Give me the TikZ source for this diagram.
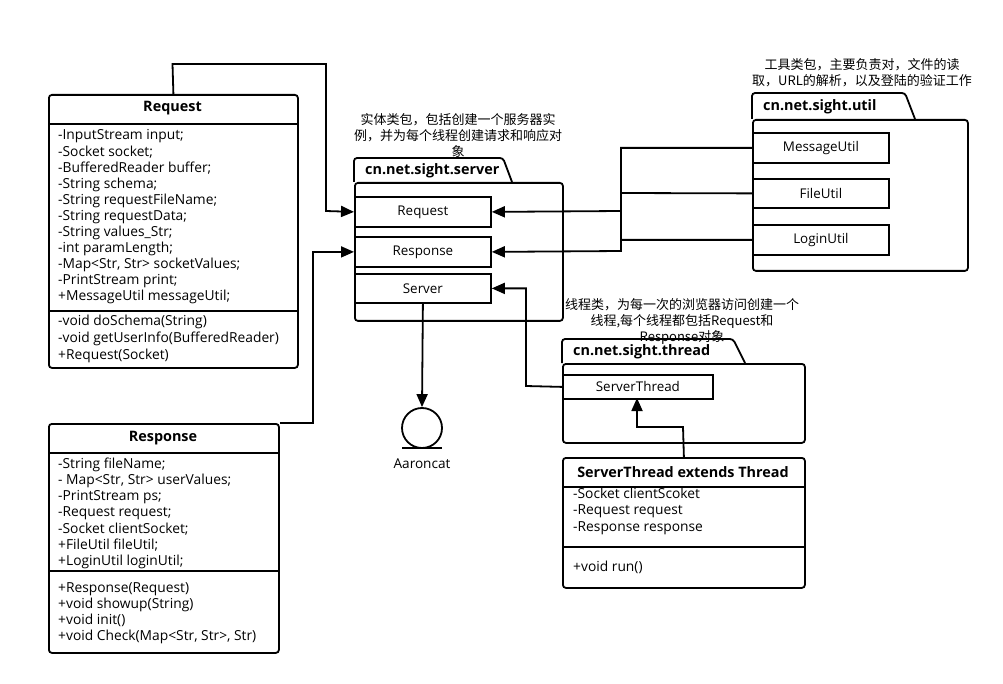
\documentclass[tikz,border=0pt]{standalone}
\usepackage{fontspec}
\setmainfont{Open Sans}
\newfontfamily\cjk{Noto Sans CJK SC}
\usetikzlibrary{arrows.meta}
\begin{document}
\begin{tikzpicture}[x=1pt,y=-1pt,
  lw/.style={line width=1.8pt},
  cls/.style={draw,line width=1.8pt,rounded corners=3pt,inner sep=0,anchor=north west},
  inbox/.style={draw,line width=1.8pt,inner sep=0,anchor=north west,font=\fontsize{13.4}{15}\selectfont},
  mem/.style={anchor=west,inner sep=0,font=\fontsize{13.8}{15}\selectfont,text height=10pt,text depth=2pt},
  ttl/.style={inner sep=0,font=\bfseries\fontsize{14.4}{15}\selectfont},
  pkl/.style={anchor=west,inner sep=0,font=\bfseries\fontsize{14.4}{15}\selectfont},
  note/.style={align=center,inner sep=0,font=\cjk\fontsize{13}{16}\selectfont},
  arr/.style={line width=1.8pt,-{Triangle[length=13pt,width=11pt]}},
  con/.style={line width=1.8pt}]
\useasboundingbox (0,0) rectangle (1003,684);

% ---------- Request class ----------
\node[cls,minimum width=249pt,minimum height=273pt] (req) at (48,94) {};
\node[ttl] (reqt) at (172.5,108) {Request};
\draw[lw] (48,124) -- (297,124);
\draw[lw] (48,311) -- (297,311);
\foreach \t [count=\i] in {{-InputStream input;},{-Socket socket;},{-BufferedReader buffer;},{-String schema;},{-String requestFileName;},{-String requestData;},{-String values\_Str;},{-int paramLength;},{-Map<Str, Str> socketValues;},{-PrintStream print;},{+MessageUtil messageUtil;}}
  \node[mem] (reqa\i) at (58,{136+16.1*(\i-1)}) {\t};
\foreach \t [count=\i] in {{-void doSchema(String)},{-void getUserInfo(BufferedReader)},{+Request(Socket)}}
  \node[mem] (reqm\i) at (58,{322+16.5*(\i-1)}) {\t};

% ---------- Response class ----------
\node[cls,minimum width=230pt,minimum height=229pt] (resp) at (48,423) {};
\node[ttl] (respt) at (163,438) {Response};
\draw[lw] (48,453) -- (278,453);
\draw[lw] (48,571) -- (278,571);
\foreach \t [count=\i] in {{-String fileName;},{- Map<Str, Str> userValues;},{-PrintStream ps;},{-Request request;},{-Socket clientSocket;},{+FileUtil fileUtil;},{+LoginUtil loginUtil;}}
  \node[mem] (respa\i) at (58,{464+16.3*(\i-1)}) {\t};
\foreach \t [count=\i] in {{+Response(Request)},{+void showup(String)},{+void init()},{+void Check(Map<Str, Str>, Str)}}
  \node[mem] (respm\i) at (58,{588+16.3*(\i-1)}) {\t};

% ---------- ServerThread class ----------
\node[cls,minimum width=242pt,minimum height=130pt] (stc) at (562,457) {};
\node[ttl] (stct) at (683,472) {ServerThread extends Thread};
\draw[lw] (562,487) -- (804,487);
\draw[lw] (562,547) -- (804,547);
\foreach \t [count=\i] in {{-Socket clientScoket},{-Request request},{-Response response}}
  \node[mem] (stca\i) at (573,{494+16.5*(\i-1)}) {\t};
\node[mem] (stcm1) at (573,567) {+void run()};

% ---------- server package ----------
\node[cls,minimum width=208pt,minimum height=138pt] (spkg) at (354,182) {};
\draw[lw,rounded corners=3pt] (spkg.north west) |- (503,158) -- (512,182);
\node[pkl] (spkgl) at (365,171) {cn.net.sight.server};
\node[inbox,minimum width=136pt,minimum height=30pt] (sReq) at (354,196) {Request};
\node[inbox,minimum width=136pt,minimum height=30pt] (sResp) at (354,236) {Response};
\node[inbox,minimum width=136pt,minimum height=29pt] (sSrv) at (354,273) {Server};
\node[note] (snote) at (458,135) {实体类包，包括创建一个服务器实\\例，并为每个线程创建请求和响应对\\象};

% ---------- util package ----------
\node[cls,minimum width=215pt,minimum height=151pt] (upkg) at (752,119) {};
\draw[lw,rounded corners=3pt] (upkg.north west) |- (905,93) -- (915,119);
\node[pkl] (upkgl) at (763,107) {cn.net.sight.util};
\node[inbox,minimum width=136pt,minimum height=30pt] (uMsg) at (752,132) {MessageUtil};
\node[inbox,minimum width=136pt,minimum height=29pt] (uFile) at (752,178) {FileUtil};
\node[inbox,minimum width=136pt,minimum height=30pt] (uLog) at (752,224) {LoginUtil};
\node[note] (unote) at (862,72.5) {工具类包，主要负责对，文件的读\\取，URL的解析，以及登陆的验证工作};

% ---------- thread package ----------
\node[cls,minimum width=242pt,minimum height=79pt] (tpkg) at (562,363) {};
\draw[lw,rounded corners=3pt] (tpkg.north west) |- (733,339) -- (745,363);
\node[pkl] (tpkgl) at (573,352) {cn.net.sight.thread};
\node[inbox,minimum width=150pt,minimum height=24pt] (tST) at (562,374) {ServerThread};
\node[note] (tnote) at (682,321) {线程类，为每一次的浏览器访问创建一个\\线程,每个线程都包括Request和\\Response对象};

% ---------- Aaroncat ----------
\node[draw,circle,line width=1.8pt,minimum size=40pt,inner sep=0] (ac) at (422,428) {};
\coordinate (acl) at (402,448);
\coordinate (acr) at (442,448);
\draw[lw] (acl) -- (acr);
\node[inner sep=0,font=\fontsize{13.6}{15}\selectfont] (acn) at (422,464) {Aaroncat};

% ---------- connectors ----------
\draw[arr] (req.north) -- (172.5,64) -| (326,211) -- (sReq.west);
\draw[arr] (resp.north east) -- (313,423) |- (sResp.west);
\draw[arr] (uMsg.west) -| (621,211) -- (sReq.east);
\draw[arr] (uLog.west) -| (621,251) -- (sResp.east);
\draw[con] (uFile.west) -- (621,193);
\draw[con] (621,210) -- (621,240);
\draw[arr] (tST.west) -- (526,386) |- (sSrv.east);
\draw[arr] (sSrv.south) -- (ac.north);
\draw[arr] (stc.north) -- (683,427) -| (637,398);
\end{tikzpicture}
\end{document}
